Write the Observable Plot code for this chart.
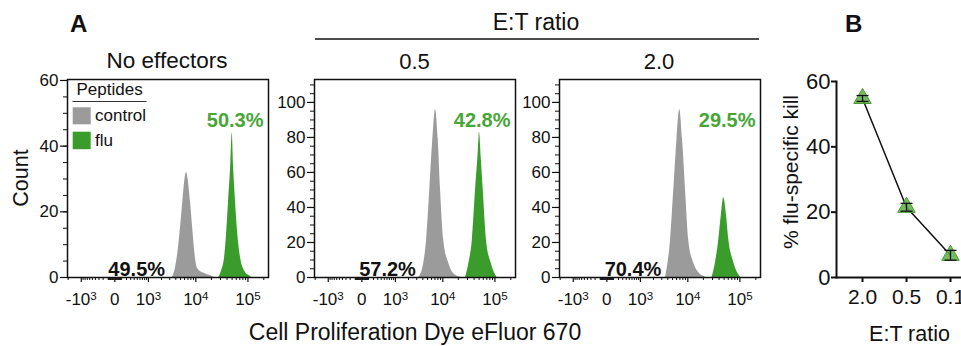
<!DOCTYPE html>
<html><head><meta charset="utf-8">
<script src="https://cdn.jsdelivr.net/npm/d3@7"></script>
<script src="https://cdn.jsdelivr.net/npm/@observablehq/plot@0.6"></script>
<style>
body{margin:0;background:#fff;}
#fig{position:relative;width:961px;height:346px;overflow:hidden;background:#fff;font-family:"Liberation Sans",Arial,sans-serif;color:#111;}
.panel{position:absolute;}
#overlay{position:absolute;left:0;top:0;pointer-events:none;}
</style></head><body><div id="fig"></div>
<script>
// ---------- data ----------
const panelTitles = ["No effectors", "0.5", "2.0"];
const lowPct = ["49.5%", "57.2%", "70.4%"];
const highPct = ["50.3%", "42.8%", "29.5%"];
const lowLabelX = [480, 620, 640];
const yMaxes = [60.3, 113.1, 113.1];
const yMajorSmall = [0, 20, 40, 60];
const yMajorLarge = [0, 20, 40, 60, 80, 100];
const xMajor = [-1000, 0, 1000, 10000, 100000];
const xMajorLabels = ["-10^3", "0", "10^3", "10^4", "10^5"];

// histograms: [fluorescence, count]
const ctrlNoEff = [[3400,0],[3950,3],[4440,8],[4830,13],[5540,23],[6130,30],[6570,32],[7040,30],[7880,23],[8900,13],[9650,7],[10650,3],[12360,1.8],[15450,1.1],[19300,0.5],[22800,0]];
const fluNoEff = [[27850,0],[31370,2],[35800,6],[39100,13],[42700,23],[46630,33],[50250,44],[53200,34],[58080,23],[64200,13],[72400,6],[86300,2],[107000,0.5],[116800,0]];
const ctrl05 = [[3330,0],[4170,8],[4760,21],[5540,50],[6360,79],[7200,96],[8130,79],[9030,50],[10450,21],[13100,8],[15450,3],[20100,0.5],[24070,0]];
const flu05 = [[27500,0],[31800,8],[37000,21],[42700,50],[47700,70],[50900,83],[54400,70],[59900,50],[69200,21],[85200,8],[110000,0]];
const ctrl20 = [[3600,0],[4020,8],[4540,21],[5280,50],[6130,79],[6960,96],[7880,79],[9030,50],[10450,21],[13100,8],[16100,3],[22800,0]];
const flu20 = [[29500,0],[34260,8.6],[39600,21.7],[44000,35],[49300,45.5],[55700,35],[61400,21.7],[76200,8.6],[103000,0]];
const ctrlHists = [ctrlNoEff, ctrl05, ctrl20];
const fluHists = [fluNoEff, flu05, flu20];

// panel B
const etRatios = ["2.0", "0.5", "0.1"];
const killMean = [54.8, 21.5, 6.8];
const killErr = [0.9, 1.2, 1.5];
const killTicks = [0, 20, 40, 60];

// colours
const gray = "#9b9b9b";
const green = "#3a9d2b";
const greenText = "#47a636";

// ---------- layout ----------
const fig = document.getElementById("fig");
const ns = "http://www.w3.org/2000/svg";
const font = '"Liberation Sans", Arial, sans-serif';
const frameLefts = [67, 314, 559];
const mL = 50, mT = 10, mR = 6, mB = 40, fW = 201, fH = 198;
const xDomain = [-2070, 246000];

// minor ticks (axis decoration)
const xMinor = [];
for (const s of [-1, 1]) for (const dec of [10, 100, 1000, 10000, 100000]) for (let k = 1; k <= 9; k++) {
  if (k === 1 && dec >= 1000) continue;
  const v = s * k * dec;
  if (v > xDomain[0] && v < xDomain[1]) xMinor.push(v);
}
const xLabelMap = new Map(xMajor.map((v, i) => [v, xMajorLabels[i]]));

function superscripts(svg) {
  svg.querySelectorAll('g[aria-label="x-axis tick label"] text').forEach(t => {
    const m = t.textContent.match(/^(.*10)\^(\d)$/);
    if (m) {
      t.textContent = m[1];
      const ts = document.createElementNS(ns, "tspan");
      ts.setAttribute("dy", "-0.42em");
      ts.setAttribute("font-size", "0.68em");
      ts.textContent = m[2];
      t.appendChild(ts);
    }
  });
}

for (let i = 0; i < 3; i++) {
  const ymax = yMaxes[i];
  const yMajor = i === 0 ? yMajorSmall : yMajorLarge;
  const yMinor = d3.range(0, ymax, 5);
  const ctrl = ctrlHists[i].map(([x, c]) => ({x, c}));
  const flu = fluHists[i].map(([x, c]) => ({x, c}));
  const p = Plot.plot({
    width: mL + fW + mR, height: mT + fH + mB,
    marginLeft: mL, marginTop: mT, marginRight: mR, marginBottom: mB,
    style: {fontFamily: font, color: "#111", background: "transparent", overflow: "visible", maxWidth: "none"},
    x: {type: "symlog", constant: 300, domain: xDomain},
    y: {domain: [0, ymax]},
    marks: [
      Plot.areaY(ctrl, {x: "x", y: "c", fill: gray, curve: "monotone-x"}),
      Plot.areaY(flu, {x: "x", y: "c", fill: green, curve: "monotone-x"}),
      Plot.axisY({ticks: yMinor, tickSize: 4, tickFormat: () => "", label: null, strokeWidth: 1}),
      Plot.axisY({ticks: yMajor, tickSize: 7, tickPadding: 2, fontSize: 17, label: null, strokeWidth: 1.2}),
      Plot.axisX({ticks: xMinor, tickSize: 3, tickFormat: () => "", label: null, strokeWidth: 1}),
      Plot.axisX({ticks: xMajor, tickSize: 5, tickPadding: 10, fontSize: 17, tickFormat: d => xLabelMap.get(d), label: null, strokeWidth: 1.2}),
      Plot.frame({stroke: "#111", strokeWidth: 1.5}),
      Plot.text([lowPct[i]], {x: [lowLabelX[i]], y: [0], text: d => d, fontSize: 20, fontWeight: "bold", fill: "#111", lineAnchor: "bottom", dy: -2}),
      Plot.text([highPct[i]], {frameAnchor: "top-right", text: d => d, fontSize: 20, fontWeight: "bold", fill: greenText, textAnchor: "end", lineAnchor: "top", dx: -5, dy: 33})
    ]
  });
  superscripts(p);
  const div = document.createElement("div");
  div.className = "panel";
  div.style.left = (frameLefts[i] - mL) + "px";
  div.style.top = (79 - mT) + "px";
  div.appendChild(p);
  fig.appendChild(div);
}

// panel B
{
  const kill = etRatios.map((r, i) => ({r, m: killMean[i], e: killErr[i]}));
  const capSymbol = {draw(ctx, size) { const r = Math.sqrt(size / Math.PI); ctx.moveTo(-r, 0); ctx.lineTo(r, 0); }};
  const p = Plot.plot({
    width: 40 + 140.5 + 6, height: 10 + 196 + 40,
    marginLeft: 40, marginTop: 10, marginRight: 6, marginBottom: 40,
    style: {fontFamily: font, color: "#111", background: "transparent", overflow: "visible", maxWidth: "none"},
    x: {type: "point", domain: etRatios, padding: 0.588},
    y: {domain: [0, 60]},
    marks: [
      Plot.frame({anchor: "left", stroke: "#111", strokeWidth: 2}),
      Plot.ruleY([0], {stroke: "#111", strokeWidth: 2}),
      Plot.axisY({ticks: killTicks, tickSize: 5, tickPadding: 1, fontSize: 22, label: null, strokeWidth: 2}),
      Plot.axisX({tickSize: 5, tickPadding: 7, fontSize: 21, label: null, strokeWidth: 2}),
      Plot.line(kill, {x: "r", y: "m", stroke: "#111", strokeWidth: 1.5}),
      Plot.dot(kill, {x: "r", y: "m", symbol: "triangle", r: 6.5, fill: "#5cb043", fillOpacity: 0.85, stroke: "#4a9a35", strokeWidth: 1}),
      Plot.ruleX(kill, {x: "r", y1: d => d.m - d.e, y2: d => d.m + d.e, stroke: "#111", strokeWidth: 1.3}),
      Plot.dot(kill, {x: "r", y: d => d.m + d.e, symbol: capSymbol, r: 6, stroke: "#111", fill: "none", strokeWidth: 1.3}),
      Plot.dot(kill, {x: "r", y: d => d.m - d.e, symbol: capSymbol, r: 6, stroke: "#111", fill: "none", strokeWidth: 1.3})
    ]
  });
  const div = document.createElement("div");
  div.className = "panel";
  div.style.left = (836 - 40) + "px";
  div.style.top = (81 - 10) + "px";
  div.appendChild(p);
  fig.appendChild(div);
}

// overlay: titles, labels, legend
const overlay = `
<svg id="overlay" xmlns="${ns}" width="961" height="346" font-family='${font}' fill="#111">
  <text x="70" y="32" font-size="24" font-weight="bold">A</text>
  <text x="845" y="32" font-size="24" font-weight="bold">B</text>
  <text x="536" y="30" font-size="23" text-anchor="middle">E:T ratio</text>
  <line x1="315" x2="759" y1="39" y2="39" stroke="#111" stroke-width="1.3"/>
  <text x="167" y="68" font-size="22.5" text-anchor="middle">${panelTitles[0]}</text>
  <text x="414.5" y="69" font-size="22" text-anchor="middle">${panelTitles[1]}</text>
  <text x="659" y="69" font-size="22" text-anchor="middle">${panelTitles[2]}</text>
  <text transform="translate(27.5,178) rotate(-90)" font-size="21.5" text-anchor="middle">Count</text>
  <text x="415" y="340" font-size="23" text-anchor="middle">Cell Proliferation Dye eFluor 670</text>
  <text transform="translate(797.5,172) rotate(-90)" font-size="21" text-anchor="middle">% flu-specific kill</text>
  <text x="909.5" y="341" font-size="21.5" text-anchor="middle">E:T ratio</text>
  <text x="76.5" y="95" font-size="17">Peptides</text>
  <line x1="72.5" x2="146.5" y1="101.5" y2="101.5" stroke="#333" stroke-width="1"/>
  <rect x="72.7" y="107.3" width="18" height="17" fill="${gray}"/>
  <text x="95" y="120.5" font-size="17">control</text>
  <rect x="72.7" y="131.7" width="18" height="17.5" fill="${green}"/>
  <text x="95" y="146" font-size="17">flu</text>
</svg>`;
fig.insertAdjacentHTML("beforeend", overlay);
</script></body></html>
